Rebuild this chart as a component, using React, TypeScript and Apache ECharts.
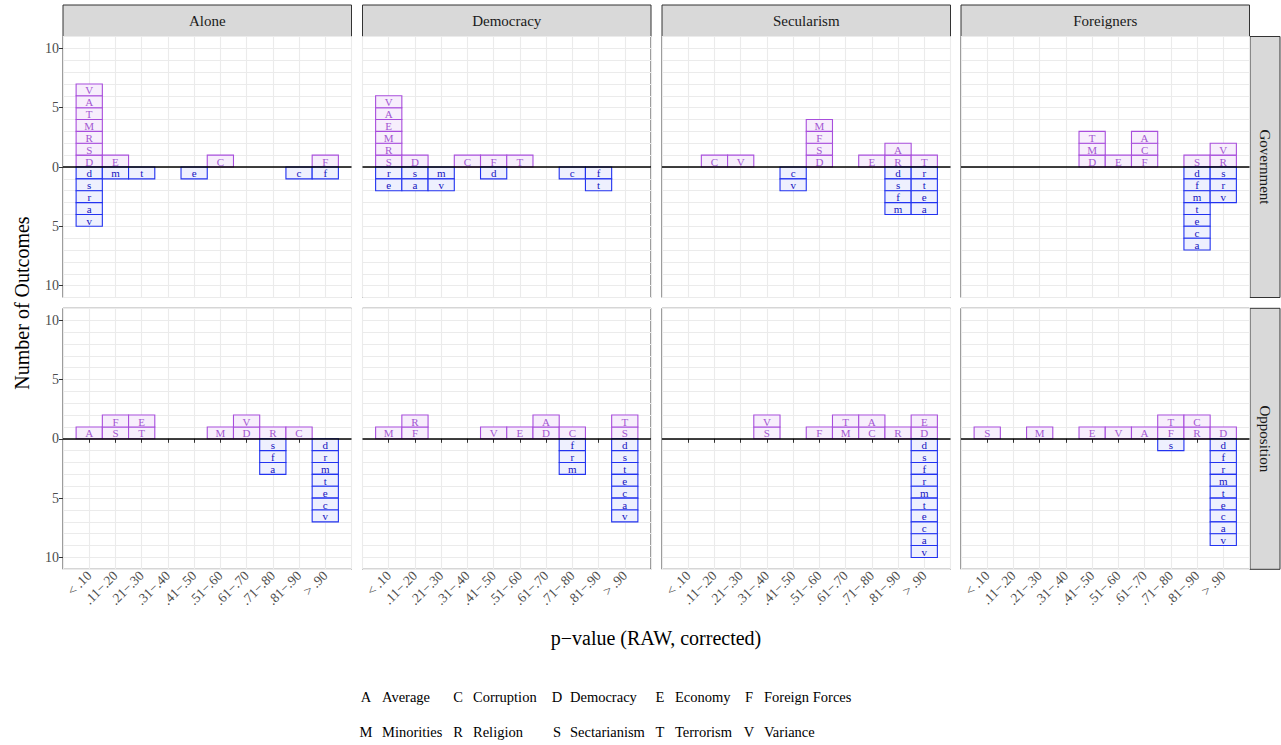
import React, { useEffect, useRef } from "react";
import * as echarts from "echarts";

const bins = ["< .10", ".11−.20", ".21−.30", ".31−.40", ".41−.50", ".51−.60", ".61−.70", ".71−.80", ".81−.90", "> .90"];
const columns = ["Alone", "Democracy", "Secularism", "Foreigners"];
const rows = ["Government", "Opposition"];
const yTicks = [-10, -5, 0, 5, 10];

// stacked letters per p-value bin (upper: from zero upward, lower: from zero downward)
const govAloneUp = ["DSRMTAV", "E", "", "", "", "C", "", "", "", "F"];
const govAloneDown = ["dsrav", "m", "t", "", "e", "", "", "", "c", "f"];
const govDemocracyUp = ["SRMEAV", "D", "", "C", "F", "T", "", "", "", ""];
const govDemocracyDown = ["re", "sa", "mv", "", "d", "", "", "c", "ft", ""];
const govSecularismUp = ["", "C", "V", "", "", "DSFM", "", "E", "RA", "T"];
const govSecularismDown = ["", "", "", "", "cv", "", "", "", "dsfm", "rtea"];
const govForeignersUp = ["", "", "", "", "DMT", "E", "FCA", "", "S", "RV"];
const govForeignersDown = ["", "", "", "", "", "", "", "", "dfmteca", "srv"];
const oppAloneUp = ["A", "SF", "TE", "", "", "M", "DV", "R", "C", ""];
const oppAloneDown = ["", "", "", "", "", "", "", "sfa", "", "drmtecv"];
const oppDemocracyUp = ["M", "FR", "", "", "V", "E", "DA", "C", "", "ST"];
const oppDemocracyDown = ["", "", "", "", "", "", "", "frm", "", "dstecav"];
const oppSecularismUp = ["", "", "", "SV", "", "F", "MT", "CA", "R", "DE"];
const oppSecularismDown = ["", "", "", "", "", "", "", "", "", "dsfrmtecav"];
const oppForeignersUp = ["S", "", "M", "", "E", "V", "A", "FT", "RC", "D"];
const oppForeignersDown = ["", "", "", "", "", "", "", "s", "", "dfrmtecav"];

const keyLetters = ["A", "C", "D", "E", "F", "M", "R", "S", "T", "V"];
const keyNames = ["Average", "Corruption", "Democracy", "Economy", "Foreign Forces", "Minorities", "Religion", "Sectarianism", "Terrorism", "Variance"];

const panels = [
  [govAloneUp, govAloneDown], [govDemocracyUp, govDemocracyDown], [govSecularismUp, govSecularismDown], [govForeignersUp, govForeignersDown],
  [oppAloneUp, oppAloneDown], [oppDemocracyUp, oppDemocracyDown], [oppSecularismUp, oppSecularismDown], [oppForeignersUp, oppForeignersDown],
];

const FONT = "Liberation Serif";
const colLeft = [63, 362.5, 662, 961];
const panelW = 288.5;
const rowTop = [36.5, 308.3];
const panelH = 261;

export default function App() {
  const ref = useRef<HTMLDivElement>(null);
  useEffect(() => {
    const chart = echarts.init(ref.current!, null, { renderer: "svg" });
    const grids: any[] = [];
    const xAxes: any[] = [];
    const yAxes: any[] = [];
    const series: any[] = [];
    panels.forEach((pd, i) => {
      const r = Math.floor(i / 4);
      const c = i % 4;
      grids.push({ left: colLeft[c], top: rowTop[r], width: panelW, height: panelH, show: true, borderColor: "#333333", borderWidth: 1, backgroundColor: "#ffffff" });
      xAxes.push({ type: "value", gridIndex: i, min: 0, max: 11, interval: 1, axisLabel: { show: false }, axisTick: { show: false }, axisLine: { show: false }, splitLine: { show: true, lineStyle: { color: "#EBEBEB", width: 1.1 } } });
      xAxes.push({
        type: "value", gridIndex: i, min: 0, max: 11, show: r === 1, position: "bottom",
        axisLine: { show: false }, splitLine: { show: false },
        axisTick: { show: true, customValues: [1, 2, 3, 4, 5, 6, 7, 8, 9, 10], length: 4, lineStyle: { color: "#333333" } },
        axisLabel: { show: true, customValues: [1, 2, 3, 4, 5, 6, 7, 8, 9, 10], rotate: 45, margin: 4, color: "#4D4D4D", fontFamily: FONT, fontSize: 13.5, formatter: (v: number) => bins[Math.round(v) - 1] ?? "" },
      });
      yAxes.push({ type: "value", gridIndex: i, min: -11, max: 11, interval: 1, axisLabel: { show: false }, axisTick: { show: false }, axisLine: { show: false }, splitLine: { show: true, lineStyle: { color: "#EBEBEB", width: 1.1 } } });
      yAxes.push({
        type: "value", gridIndex: i, min: -11, max: 11, show: c === 0, position: "left",
        axisLine: { show: false }, splitLine: { show: false },
        axisTick: { show: true, customValues: yTicks, length: 4, lineStyle: { color: "#333333" } },
        axisLabel: { show: true, customValues: yTicks, margin: 4, color: "#4D4D4D", fontFamily: FONT, fontSize: 14, formatter: (v: number) => String(Math.abs(v)) },
      });
      const boxes: { x: number; lvl: number; up: boolean; ch: string }[] = [];
      const [ups, downs] = pd as string[][];
      ups.forEach((s, b) => s.split("").forEach((ch, k) => boxes.push({ x: b + 1, lvl: k + 1, up: true, ch })));
      downs.forEach((s, b) => s.split("").forEach((ch, k) => boxes.push({ x: b + 1, lvl: k + 1, up: false, ch })));
      series.push({
        type: "custom",
        xAxisIndex: 2 * i,
        yAxisIndex: 2 * i,
        data: boxes.map((b) => [b.x, b.up ? b.lvl : -b.lvl]),
        renderItem: (params: any, api: any) => {
          const b = boxes[params.dataIndex];
          const y0 = b.up ? b.lvl - 1 : -(b.lvl - 1);
          const y1 = b.up ? b.lvl : -b.lvl;
          const p0 = api.coord([b.x - 0.5, y0]);
          const p1 = api.coord([b.x + 0.5, y1]);
          const x = Math.min(p0[0], p1[0]);
          const y = Math.min(p0[1], p1[1]);
          const w = Math.abs(p1[0] - p0[0]);
          const h = Math.abs(p1[1] - p0[1]);
          return {
            type: "group",
            children: [
              { type: "rect", shape: { x, y, width: w, height: h }, style: { fill: b.up ? "#F7EEFC" : "#EEF0FE", stroke: b.up ? "#A84EDC" : "#2233F0", lineWidth: 1.1 } },
              { type: "text", style: { x: x + w / 2, y: y + h / 2 + 0.5, text: b.ch, fill: b.up ? "#A457D2" : "#1515C0", font: `11px "${FONT}"`, align: "center", verticalAlign: "middle" } },
            ],
          };
        },
        markLine: { silent: true, symbol: ["none", "none"], label: { show: false }, lineStyle: { color: "#000000", width: 1.6, type: "solid" }, data: [{ yAxis: 0 }] },
      });
    });

    const graphics: any[] = [];
    columns.forEach((name, c) => {
      graphics.push({ type: "rect", shape: { x: colLeft[c], y: 5, width: panelW, height: 31.5 }, style: { fill: "#D9D9D9", stroke: "#333333", lineWidth: 1 } });
      graphics.push({ type: "text", x: colLeft[c] + panelW / 2, y: 21, style: { text: name, fill: "#1A1A1A", font: `15px "${FONT}"`, align: "center", verticalAlign: "middle" } });
    });
    rows.forEach((name, r) => {
      graphics.push({ type: "rect", shape: { x: 1250, y: rowTop[r], width: 30, height: panelH }, style: { fill: "#D9D9D9", stroke: "#333333", lineWidth: 1 } });
      graphics.push({ type: "text", x: 1265, y: rowTop[r] + panelH / 2, rotation: -Math.PI / 2, style: { text: name, fill: "#1A1A1A", font: `15px "${FONT}"`, align: "center", verticalAlign: "middle" } });
    });
    graphics.push({ type: "text", x: 22, y: 303, rotation: Math.PI / 2, style: { text: "Number of Outcomes", fill: "#000000", font: `20px "${FONT}"`, align: "center", verticalAlign: "middle" } });
    graphics.push({ type: "text", x: 656, y: 638, style: { text: "p−value (RAW, corrected)", fill: "#000000", font: `20px "${FONT}"`, align: "center", verticalAlign: "middle" } });
    const keyX = [366, 458, 557, 660, 749];
    const labX = [382, 473, 570, 675, 764];
    keyLetters.forEach((k, i) => {
      const r = Math.floor(i / 5);
      const c = i % 5;
      const y = r === 0 ? 697 : 732;
      graphics.push({ type: "text", x: keyX[c], y, style: { text: k, fill: "#000000", font: `14.5px "${FONT}"`, align: "center", verticalAlign: "middle" } });
      graphics.push({ type: "text", x: labX[c], y, style: { text: keyNames[i], fill: "#000000", font: `14.5px "${FONT}"`, align: "left", verticalAlign: "middle" } });
    });

    chart.setOption({
      animation: false,
      backgroundColor: "#ffffff",
      grid: grids,
      xAxis: xAxes,
      yAxis: yAxes,
      series,
      graphic: graphics,
    });
    return () => chart.dispose();
  }, []);
  return <div ref={ref} style={{ position: "absolute", left: 0, top: 0, width: 1281, height: 745 }} />;
}
